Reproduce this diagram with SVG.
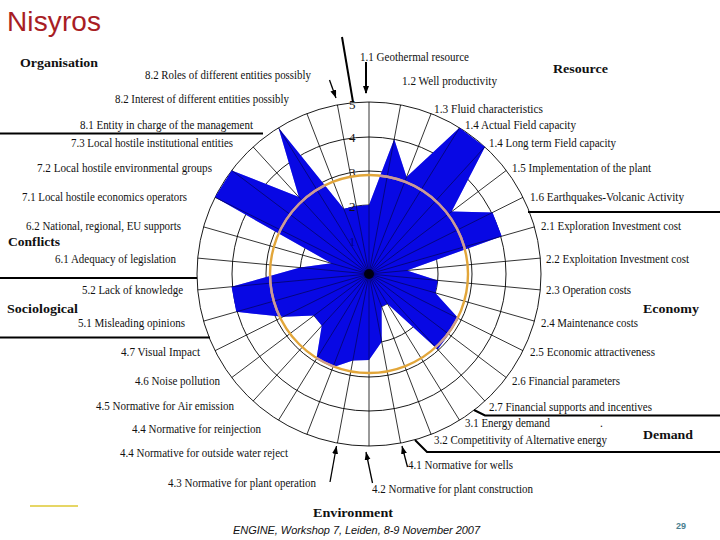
<svg xmlns="http://www.w3.org/2000/svg" width="720" height="540" viewBox="0 0 720 540">
<style>
text{font-family:"Liberation Serif","Times New Roman",serif;font-size:11.500px;fill:#111}
.h{font-weight:bold;font-size:13.500px}
.ring{fill:none;stroke:#000;stroke-width:.9}
.spoke{stroke:#000;stroke-width:.8}
.rule{fill:none;stroke:#000;stroke-width:2}
.arrow{fill:none;stroke:#000;stroke-width:1.3;marker-end:url(#ah)}
.arrowT{fill:none;stroke:#000;stroke-width:2;marker-end:url(#ah2)}
</style>
<defs>
<marker id="ah" markerUnits="userSpaceOnUse" markerWidth="9" markerHeight="8" refX="8" refY="3" orient="auto"><path d="M0 0L8 3L0 6z" fill="#000"/></marker>
<marker id="ah2" markerUnits="userSpaceOnUse" markerWidth="9" markerHeight="8" refX="7" refY="3" orient="auto"><path d="M0 0L8 3L0 6z" fill="#000"/></marker>
<polygon id="shape" points="369,205 394.2,139.3 406.6,177 459.5,127.8 484.9,146.9 451.6,211.6 492.5,212.5 501.7,236.2 406.8,270.5 437.7,280.4 435.4,292.9 458.5,318.6 448.8,334.3 437.7,349.4 387.4,303.8 381.6,306.6 381.7,341.8 369,360 352.8,360.5 332.9,367.3 316.4,359 321.8,325.7 314,315.6 283.1,316.8 236.3,311.8 231.6,286.7 300.3,267.6 331.5,263.3 215,197.3 231.7,170.4 298.9,197.1 278.5,127.8 343.7,208.7 356.3,206.2"/>
<clipPath id="blueClip"><use href="#shape"/></clipPath>
</defs>
<g id="title"><text x="7" y="31" style="font-family:'Liberation Sans',Arial,sans-serif;font-size:28px;fill:#a81d24" textLength="94">Nisyros</text></g>
<g id="chart">
<g class="ring"><circle cx="369" cy="274" r="172"/><circle cx="369" cy="274" r="137"/><circle cx="369" cy="274" r="103"/><circle cx="369" cy="274" r="69"/><circle cx="369" cy="274" r="35"/></g>
<use href="#shape" fill="#0808e4"/>
<g class="spoke">
<line x1="369" y1="102" x2="369" y2="446"/><line x1="400.6" y1="104.9" x2="337.4" y2="443.1"/><line x1="431.1" y1="113.6" x2="306.9" y2="434.4"/><line x1="459.5" y1="127.8" x2="278.5" y2="420.2"/><line x1="484.9" y1="146.9" x2="253.1" y2="401.1"/><line x1="506.3" y1="170.4" x2="231.7" y2="377.6"/><line x1="523" y1="197.3" x2="215" y2="350.7"/><line x1="534.4" y1="226.9" x2="203.6" y2="321.1"/><line x1="540.3" y1="258.1" x2="197.7" y2="289.9"/><line x1="540.3" y1="289.9" x2="197.7" y2="258.1"/><line x1="534.4" y1="321.1" x2="203.6" y2="226.9"/><line x1="523" y1="350.7" x2="215" y2="197.3"/><line x1="506.3" y1="377.6" x2="231.7" y2="170.4"/><line x1="484.9" y1="401.1" x2="253.1" y2="146.9"/><line x1="459.5" y1="420.2" x2="278.5" y2="127.8"/><line x1="431.1" y1="434.4" x2="306.9" y2="113.6"/><line x1="400.6" y1="443.1" x2="337.4" y2="104.9"/>
</g>
<use href="#shape" fill="#0808e4" opacity=".45"/>
<g id="scale"><text x="349" y="109" style="font-size:13px">5</text><text x="349" y="142" style="font-size:13px">4</text><text x="349" y="177" style="font-size:13px">3</text><text x="349" y="211" style="font-size:13px">2</text><text x="349" y="246" style="font-size:13px;fill:#00008c">1</text></g>
<circle id="threshold" cx="369" cy="274" r="99" fill="none" stroke="#e2a63a" stroke-width="2.4"/>
<circle cx="369" cy="274" r="99" fill="none" stroke="#c99a9c" stroke-width="2.4" clip-path="url(#blueClip)"/>
<circle cx="369" cy="274" r="5" fill="#000" opacity=".85"/>
</g>
<g id="connectors">
<path class="rule" d="M0 133.500H263"/>
<path class="rule" d="M528 212H720"/>
<path class="rule" d="M0 278H197"/>
<path class="rule" d="M0 337.500H210"/>
<path class="rule" d="M474 410L485 415.500H720"/>
<path class="rule" d="M415 440L427 452H720"/>
<path class="rule" d="M342 37L353 102" stroke-width="2"/>
<path class="arrowT" d="M366 62V93"/>
<path class="arrow" d="M329.500 80L336 98"/>
<path class="arrow" d="M330 482L336.500 446"/>
<path class="arrow" d="M372.500 483L366 452"/>
<path class="arrow" d="M407.500 467L402 446"/>
<path d="M30 506H78" stroke="#e6d665" stroke-width="2" fill="none"/>
</g>
<g id="labels">
<text x="360" y="61" textLength="109" lengthAdjust="spacingAndGlyphs">1.1 Geothermal resource</text>
<text x="402" y="85" textLength="95" lengthAdjust="spacingAndGlyphs">1.2 Well productivity</text>
<text x="434" y="113" textLength="109" lengthAdjust="spacingAndGlyphs">1.3  Fluid characteristics</text>
<text x="465" y="129" textLength="111" lengthAdjust="spacingAndGlyphs">1.4 Actual Field capacity</text>
<text x="489" y="147" textLength="127" lengthAdjust="spacingAndGlyphs">1.4 Long term Field capacity</text>
<text x="512" y="172" textLength="139" lengthAdjust="spacingAndGlyphs">1.5 Implementation of the plant</text>
<text x="530" y="201" textLength="154" lengthAdjust="spacingAndGlyphs">1.6 Earthquakes-Volcanic Activity</text>
<text x="541" y="230" textLength="140" lengthAdjust="spacingAndGlyphs">2.1 Exploration Investment cost</text>
<text x="546" y="263" textLength="143" lengthAdjust="spacingAndGlyphs">2.2 Exploitation Investment cost</text>
<text x="546" y="294" textLength="85" lengthAdjust="spacingAndGlyphs">2.3 Operation costs</text>
<text x="541" y="327" textLength="97" lengthAdjust="spacingAndGlyphs">2.4 Maintenance costs</text>
<text x="530" y="356" textLength="125" lengthAdjust="spacingAndGlyphs">2.5 Economic attractiveness</text>
<text x="512" y="385" textLength="108" lengthAdjust="spacingAndGlyphs">2.6 Financial parameters</text>
<text x="489" y="411" textLength="163" lengthAdjust="spacingAndGlyphs">2.7 Financial supports and incentives</text>
<text x="465" y="427" textLength="85" lengthAdjust="spacingAndGlyphs">3.1 Energy demand</text>
<text x="600" y="427">.</text>
<text x="434" y="444" textLength="173" lengthAdjust="spacingAndGlyphs">3.2 Competitivity of Alternative energy</text>
<text x="408" y="469" textLength="105" lengthAdjust="spacingAndGlyphs">4.1 Normative for wells</text>
<text x="372" y="493" textLength="161" lengthAdjust="spacingAndGlyphs">4.2 Normative for plant construction</text>
<text x="168" y="487" textLength="148" lengthAdjust="spacingAndGlyphs">4.3 Normative for plant operation</text>
<text x="120" y="457" textLength="168" lengthAdjust="spacingAndGlyphs">4.4 Normative for outside water reject</text>
<text x="132" y="433" textLength="129" lengthAdjust="spacingAndGlyphs">4.4 Normative for reinjection</text>
<text x="96" y="410" textLength="138" lengthAdjust="spacingAndGlyphs">4.5 Normative for Air emission</text>
<text x="135" y="385" textLength="85" lengthAdjust="spacingAndGlyphs">4.6 Noise pollution</text>
<text x="121" y="356" textLength="79" lengthAdjust="spacingAndGlyphs">4.7 Visual Impact</text>
<text x="78" y="327" textLength="107" lengthAdjust="spacingAndGlyphs">5.1 Misleading opinions</text>
<text x="82" y="294" textLength="101" lengthAdjust="spacingAndGlyphs">5.2 Lack of knowledge</text>
<text x="55" y="263" textLength="121" lengthAdjust="spacingAndGlyphs">6.1 Adequacy of legislation</text>
<text x="26" y="230" textLength="155" lengthAdjust="spacingAndGlyphs">6.2 National, regional, EU supports</text>
<text x="22" y="201" textLength="165" lengthAdjust="spacingAndGlyphs">7.1 Local hostile economics operators</text>
<text x="37" y="172" textLength="175" lengthAdjust="spacingAndGlyphs">7.2 Local hostile environmental groups</text>
<text x="71" y="147" textLength="162" lengthAdjust="spacingAndGlyphs">7.3 Local hostile institutional entities</text>
<text x="80" y="129" textLength="173" lengthAdjust="spacingAndGlyphs">8.1 Entity in charge of the management</text>
<text x="115" y="103" textLength="174" lengthAdjust="spacingAndGlyphs">8.2 Interest of different entities possibly</text>
<text x="145" y="79" textLength="166" lengthAdjust="spacingAndGlyphs">8.2 Roles of different entities possibly</text>
</g>
<g id="headings">
<text class="h" x="20" y="67" textLength="78" lengthAdjust="spacingAndGlyphs">Organisation</text>
<text class="h" x="553" y="73" textLength="55" lengthAdjust="spacingAndGlyphs">Resource</text>
<text class="h" x="8" y="246" textLength="52" lengthAdjust="spacingAndGlyphs">Conflicts</text>
<text class="h" x="7" y="313" textLength="71" lengthAdjust="spacingAndGlyphs">Sociological</text>
<text class="h" x="643" y="313" textLength="56" lengthAdjust="spacingAndGlyphs">Economy</text>
<text class="h" x="643" y="439" textLength="50" lengthAdjust="spacingAndGlyphs">Demand</text>
<text class="h" x="313" y="517" textLength="80" lengthAdjust="spacingAndGlyphs">Environment</text>
</g>
<g id="footer">
<text x="233" y="534" style="font-family:'Liberation Sans',Arial,sans-serif;font-style:italic;font-size:11px" textLength="247">ENGINE, Workshop 7, Leiden, 8-9 November 2007</text>
<text x="676" y="529" style="font-family:'Liberation Sans',Arial,sans-serif;font-weight:bold;font-size:9px;fill:#4a7f90">29</text>
</g>
</svg>
